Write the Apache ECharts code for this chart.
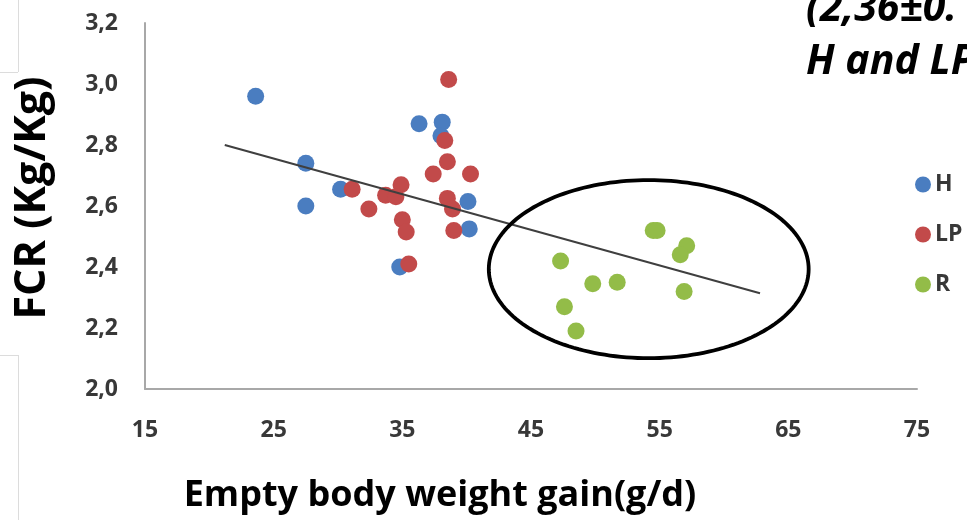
<!DOCTYPE html>
<html>
<head>
<meta charset="utf-8">
<title>FCR vs Empty body weight gain</title>
<script src="https://cdn.jsdelivr.net/npm/echarts@6/dist/echarts.min.js"></script>
<style>
  html, body { margin: 0; padding: 0; background: #ffffff; }
  #chart { width: 967px; height: 520px; }
</style>
</head>
<body>
<div id="chart"></div>
<script>
// Group names and colours
const seriesNames = ['H', 'LP', 'R'];
const seriesColors = ['#4a7dc0', '#c24a4a', '#93bc48'];

// Empty body weight gain (g/d) and FCR (Kg/Kg) per animal
const hGain = [23.6, 27.5, 27.5, 30.2, 36.3, 38.1, 38.0, 40.1, 40.2, 34.8];
const hFcr  = [2.96, 2.74, 2.60, 2.655, 2.87, 2.875, 2.83, 2.615, 2.525, 2.40];

const lpGain = [38.6, 38.3, 38.5, 37.4, 40.3, 31.1, 34.9, 33.7, 34.5, 32.4, 38.5, 38.9, 35.0, 35.3, 39.0, 35.5];
const lpFcr  = [3.015, 2.815, 2.745, 2.705, 2.705, 2.655, 2.67, 2.635, 2.63, 2.59, 2.625, 2.59, 2.555, 2.515, 2.52, 2.41];

const rGain = [47.3, 49.8, 51.7, 47.6, 48.5, 54.5, 54.8, 57.1, 56.6, 56.9];
const rFcr  = [2.42, 2.345, 2.35, 2.27, 2.19, 2.52, 2.52, 2.47, 2.44, 2.32];

// Linear trend line end points over all animals
const trendGain = [21.2, 62.8];
const trendFcr  = [2.80, 2.314];

// Axis ticks
const xTicks = [15, 25, 35, 45, 55, 65, 75];
const yTicks = [2.0, 2.2, 2.4, 2.6, 2.8, 3.0, 3.2];

// Highlighted region (data units): centre and half-axes
const ringCenter = [54.15, 2.393];
const ringHalf = [12.43, 0.292];

const zip = (xs, ys) => xs.map((x, i) => [x, ys[i]]);

const chart = echarts.init(document.getElementById('chart'), null, { renderer: 'canvas' });

const labelFont = '"Open Sans", "DejaVu Sans", sans-serif';

const option = {
  animation: false,
  backgroundColor: '#ffffff',
  grid: { left: 145, right: 50, top: 23, bottom: 131, containLabel: false },
  xAxis: {
    type: 'value',
    min: xTicks[0],
    max: xTicks[xTicks.length - 1],
    interval: xTicks[1] - xTicks[0],
    name: 'Empty body weight gain(g/d)',
    nameLocation: 'middle',
    nameGap: 89,
    nameTextStyle: {
      fontFamily: labelFont, fontWeight: 'bold', fontSize: 36, color: '#000000',
      padding: [0, 182, 0, 0]
    },
    axisLine: { show: true, lineStyle: { color: '#a8a8a8', width: 2 } },
    axisTick: { show: false },
    splitLine: { show: false },
    axisLabel: {
      margin: 30,
      fontFamily: labelFont, fontWeight: 'bold', fontSize: 23, color: '#383838'
    }
  },
  yAxis: {
    type: 'value',
    min: yTicks[0],
    max: yTicks[yTicks.length - 1],
    interval: 0.2,
    name: 'FCR (Kg/Kg)',
    nameLocation: 'middle',
    nameGap: 91,
    nameTextStyle: {
      fontFamily: labelFont, fontWeight: 'bold', fontSize: 43, color: '#000000',
      padding: [0, 0, 0, 16]
    },
    axisLine: { show: true, lineStyle: { color: '#a8a8a8', width: 2 } },
    axisTick: { show: false },
    splitLine: { show: false },
    axisLabel: {
      margin: 27,
      fontFamily: labelFont, fontWeight: 'bold', fontSize: 23, color: '#383838',
      formatter: v => v.toFixed(1).replace('.', ',')
    }
  },
  legend: {
    data: seriesNames,
    orient: 'vertical',
    left: 915,
    top: 173,
    padding: 0,
    icon: 'circle',
    itemWidth: 16,
    itemHeight: 16,
    itemGap: 27,
    textStyle: {
      fontFamily: labelFont, fontWeight: 'bold', fontSize: 23, color: '#383838',
      padding: [0, 0, 0, -1]
    }
  },
  series: [
    {
      name: seriesNames[0], type: 'scatter', symbolSize: 17,
      itemStyle: { color: seriesColors[0], opacity: 1 },
      data: zip(hGain, hFcr), z: 2
    },
    {
      name: seriesNames[1], type: 'scatter', symbolSize: 17,
      itemStyle: { color: seriesColors[1], opacity: 1 },
      data: zip(lpGain, lpFcr), z: 3
    },
    {
      name: seriesNames[2], type: 'scatter', symbolSize: 17,
      itemStyle: { color: seriesColors[2], opacity: 1 },
      data: zip(rGain, rFcr), z: 4
    },
    {
      name: 'trend', type: 'line', symbol: 'none', silent: true,
      lineStyle: { color: '#3f3f3f', width: 2 },
      data: zip(trendGain, trendFcr), z: 5
    }
  ]
};

chart.setOption(option);

// Ellipse outline round the R group, placed through the chart's own coordinate system
function drawRing() {
  const c = chart.convertToPixel({ gridIndex: 0 }, ringCenter);
  const e = chart.convertToPixel({ gridIndex: 0 }, [ringCenter[0] + ringHalf[0], ringCenter[1] + ringHalf[1]]);
  const rx = Math.abs(e[0] - c[0]);
  const ry = Math.abs(e[1] - c[1]);
  const pts = [];
  for (let i = 0; i < 180; i++) {
    const t = (i / 180) * Math.PI * 2;
    pts.push([c[0] + rx * Math.cos(t), c[1] + ry * Math.sin(t)]);
  }
  chart.setOption({
    graphic: [
      {
        type: 'polygon', z: 10, silent: true,
        shape: { points: pts },
        style: { fill: 'none', stroke: '#000000', lineWidth: 3.8 }
      },
      // Heading text on the right, running past the page edge
      {
        type: 'text', z: 10, left: 806, top: -11,
        style: {
          text: '(2,36±0.', fill: '#000000',
          font: 'italic bold 41px "Open Sans", sans-serif'
        }
      },
      {
        type: 'text', z: 10, left: 806, top: 42,
        style: {
          text: 'H and LP', fill: '#000000',
          font: 'italic bold 41px "Open Sans", sans-serif'
        }
      },
      // Faint frame edges on the left margin
      { type: 'line', silent: true, shape: { x1: 18.5, y1: 0, x2: 18.5, y2: 72 }, style: { stroke: '#dcdcdc', lineWidth: 1 } },
      { type: 'line', silent: true, shape: { x1: 0, y1: 72.5, x2: 18, y2: 72.5 }, style: { stroke: '#dcdcdc', lineWidth: 1 } },
      { type: 'line', silent: true, shape: { x1: 0, y1: 355.5, x2: 18, y2: 355.5 }, style: { stroke: '#dcdcdc', lineWidth: 1 } },
      { type: 'line', silent: true, shape: { x1: 18.5, y1: 355, x2: 18.5, y2: 520 }, style: { stroke: '#dcdcdc', lineWidth: 1 } }
    ]
  });
}
drawRing();
</script>
</body>
</html>
